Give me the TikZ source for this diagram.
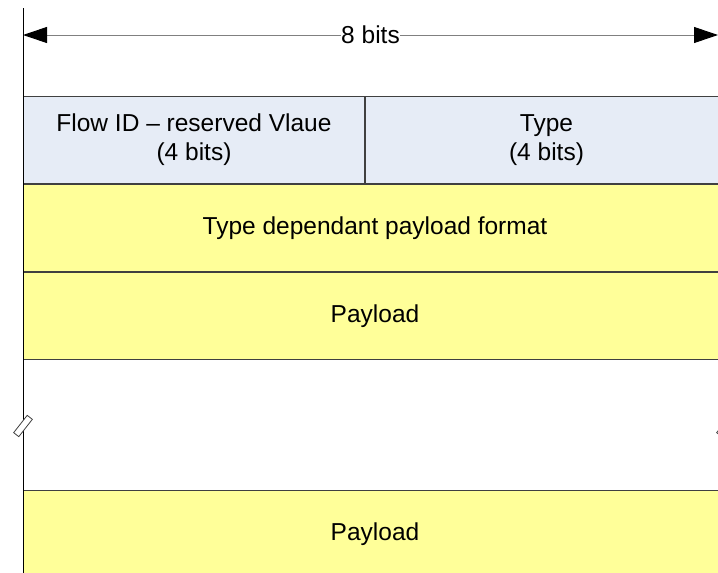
\documentclass[tikz,border=0pt]{standalone}
\usepackage{fontspec}
\setmainfont{Liberation Sans}
\usetikzlibrary{arrows.meta}

\definecolor{hdrblue}{HTML}{E6ECF6}
\definecolor{padyellow}{HTML}{FFFF99}
\definecolor{rowline}{HTML}{404040}

\tikzset{
  field/.style={draw=rowline, line width=1pt, inner sep=0pt, anchor=north west,
    minimum height=87pt, align=center, font=\fontsize{24.5}{29}\selectfont},
  brk/.style={draw=black!75, fill=white, line width=.8pt, inner sep=0pt,
    minimum width=22pt, minimum height=6.5pt, rotate=52}
}

\begin{document}
\begin{tikzpicture}[x=1pt,y=-1pt]
  \useasboundingbox (0,0) rectangle (718,573);
  % fields, 8 bits wide
  \node[field, fill=hdrblue, minimum width=341pt] (flowid) at (23,96)
    {Flow ID – reserved Vlaue\\(4 bits)};
  \node[field, fill=hdrblue, minimum width=362pt] (type) at (flowid.north east)
    {Type\\(4 bits)};
  \node[field, fill=padyellow, minimum width=703pt] (fmt) at (flowid.south west)
    {Type dependant payload format};
  \node[field, fill=padyellow, minimum width=703pt] (pl1) at (fmt.south west)
    {Payload};
  \node[field, fill=padyellow, minimum width=703pt] (pl2) at (23,490)
    {Payload};
  % left edge and width marker
  \coordinate (top) at (23,8);
  \coordinate (bot) at (23,580);
  \draw[line width=1pt] (top) -- (bot);
  \coordinate (wl) at (23,35);
  \coordinate (wr) at (718,35);
  \draw[gray, line width=1pt, {Triangle[length=24pt,width=16pt,black]}-{Triangle[length=24pt,width=16pt,black]}]
    (wl) -- (wr) node[midway, fill=white, inner sep=.5pt, text=black,
      font=\fontsize{24.5}{29}\selectfont] (wlabel) {8 bits};
  % break marks
  \node[brk] (brkl) at (23,426) {};
  \node[brk] (brkr) at (726,426) {};
\end{tikzpicture}
\end{document}
